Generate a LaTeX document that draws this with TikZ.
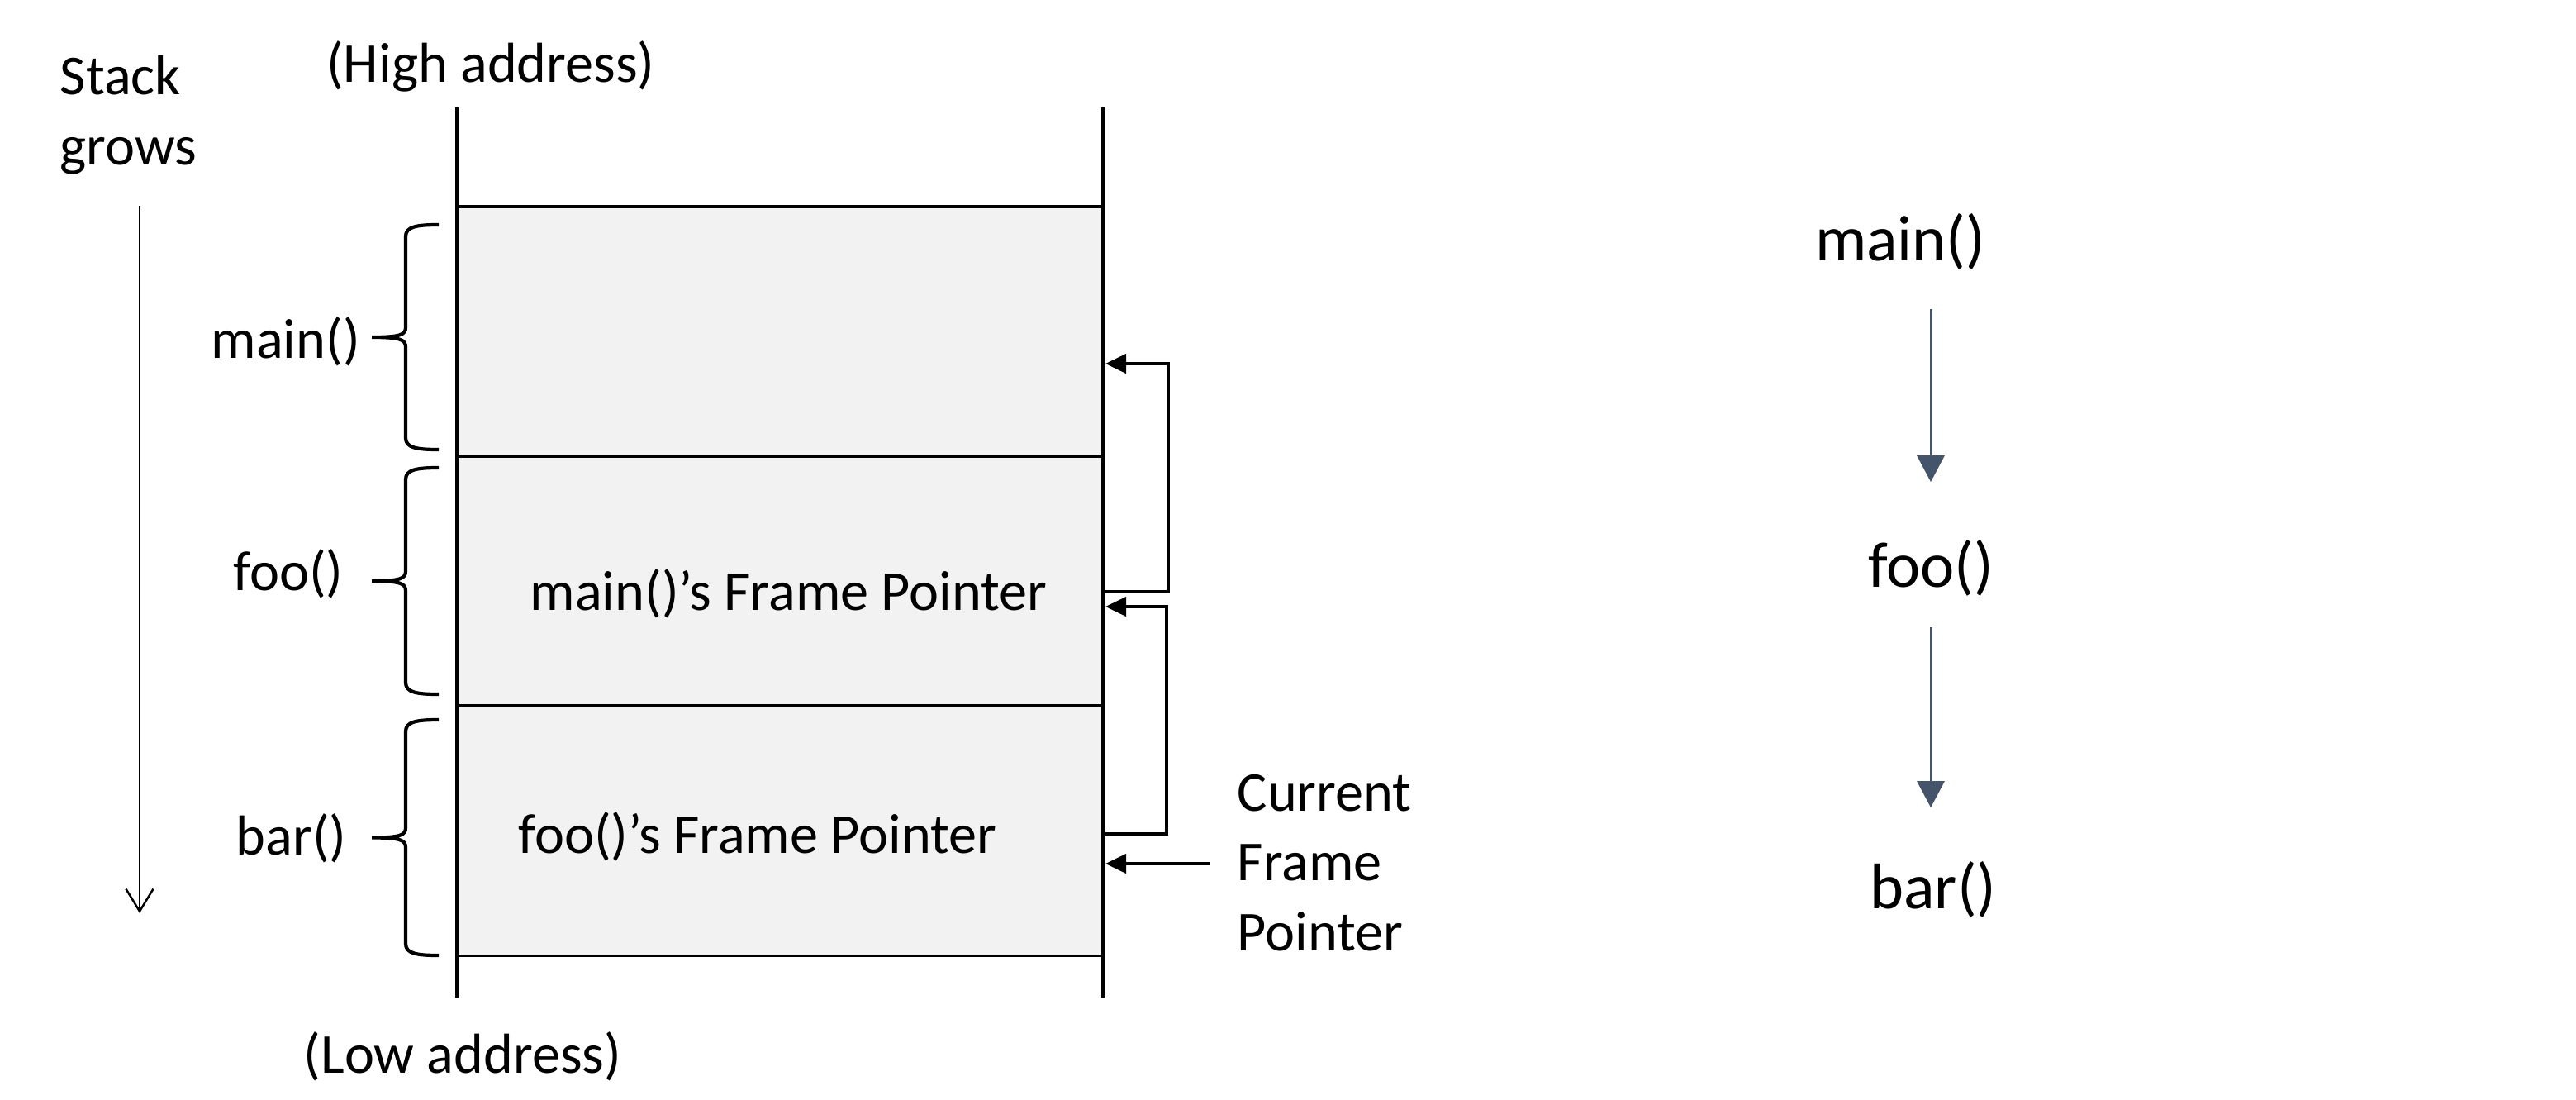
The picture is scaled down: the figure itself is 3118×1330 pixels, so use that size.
\documentclass[tikz,border=0pt]{standalone}
\usepackage{fontspec}
\setmainfont{Carlito}
\usetikzlibrary{arrows.meta,positioning,calc}
\definecolor{framefill}{RGB}{242,242,242}
\definecolor{callarrow}{RGB}{68,84,106}

\begin{document}
\begin{tikzpicture}[
  x=0.01cm, y=-0.01cm,
  lbl/.style={inner sep=0pt, font=\fontsize{19.4}{23.9}\selectfont},
  call/.style={inner sep=0pt, font=\fontsize{22.2}{26.5}\selectfont},
  frame/.style={draw, line width=0.9pt, fill=framefill, minimum width=7.82cm,
                inner sep=0pt, outer sep=0pt},
  wall/.style={line width=1.4pt},
  fp/.style={line width=1.1pt, -{Triangle[length=0.25cm,width=0.23cm]}},
  fbrace/.style={line width=1.2pt},
  calledge/.style={line width=0.85pt, callarrow, -{Triangle[length=0.32cm,width=0.33cm]}},
]
\useasboundingbox (0,0) rectangle (3118,1330);

\node[frame, minimum height=3.02cm, anchor=north west] (mainfr) at (553,250) {};
\node[frame, minimum height=3.01cm, below=0pt of mainfr] (foofr) {};
\node[frame, minimum height=3.03cm, below=0pt of foofr] (barfr) {};

\draw[wall] (553,130) -- (553,1207);
\draw[wall] (1335,130) -- (1335,1207);

\node[lbl, anchor=base] (high) at (594,100) {(High address)};
\node[lbl, anchor=base] (low) at (560,1298) {(Low address)};

\node[lbl, anchor=base west, align=left] (grows) at (72,199) {Stack\\grows};
\coordinate (growtop) at (169,249);
\coordinate (growend) at (169,1105);
\draw[line width=0.7pt, -{Straight Barb[length=0.27cm,width=0.33cm]}] (growtop) -- (growend);

\foreach \name/\topy/\boty/\lx/\ly in {main/272/544/255/433, foo/566/840/282/714, bar/871/1156/285/1034} {
  \pgfmathsetmacro{\tipy}{(\topy+\boty)/2}
  \draw[fbrace] (531,\topy) .. controls (505,\topy) and (491,\topy+2) .. (491,\topy+14)
    -- (491,\tipy-12) .. controls (491,\tipy-3) and (485,\tipy) .. (450,\tipy)
    .. controls (485,\tipy) and (491,\tipy+3) .. (491,\tipy+12)
    -- (491,\boty-14) .. controls (491,\boty-2) and (505,\boty) .. (531,\boty);
  \node[lbl, anchor=base west] (\name lbl) at (\lx,\ly) {\name()};
}

\node[lbl, anchor=base west] (mainfp) at (641,738) {main()'s Frame Pointer};
\node[lbl, anchor=base west] (foofp) at (627,1032) {foo()'s Frame Pointer};

\coordinate (mainsave) at (1338,716);
\coordinate (maintgt) at (1338,440);
\coordinate (foosave) at (1338,1009);
\coordinate (footgt) at (1338,734);
\draw[fp] (mainsave) -| (1414,440) -- (maintgt);
\draw[fp] (foosave) -| (1412,734) -- (footgt);

\node[lbl, anchor=base west, align=left] (cfp) at (1497,1150) {Current\\Frame\\Pointer};
\coordinate (cfpin) at (1338,1045);
\draw[fp] (cfp.west |- cfpin) ++(-0.33cm,0) -- (cfpin);

\node[call, anchor=base] (callmain) at (2300,315) {main()};
\node[call, anchor=base] (callfoo) at (2337,710) {foo()};
\node[call, anchor=base] (callbar) at (2340,1099) {bar()};
\draw[calledge] ([yshift=-0.47cm]callmain.south -| callfoo.north) -- ([yshift=0.69cm]callfoo.north);
\draw[calledge] ([yshift=-0.37cm]callfoo.south) -- ([yshift=0.64cm]callbar.north -| callfoo.north);
\end{tikzpicture}
\end{document}
